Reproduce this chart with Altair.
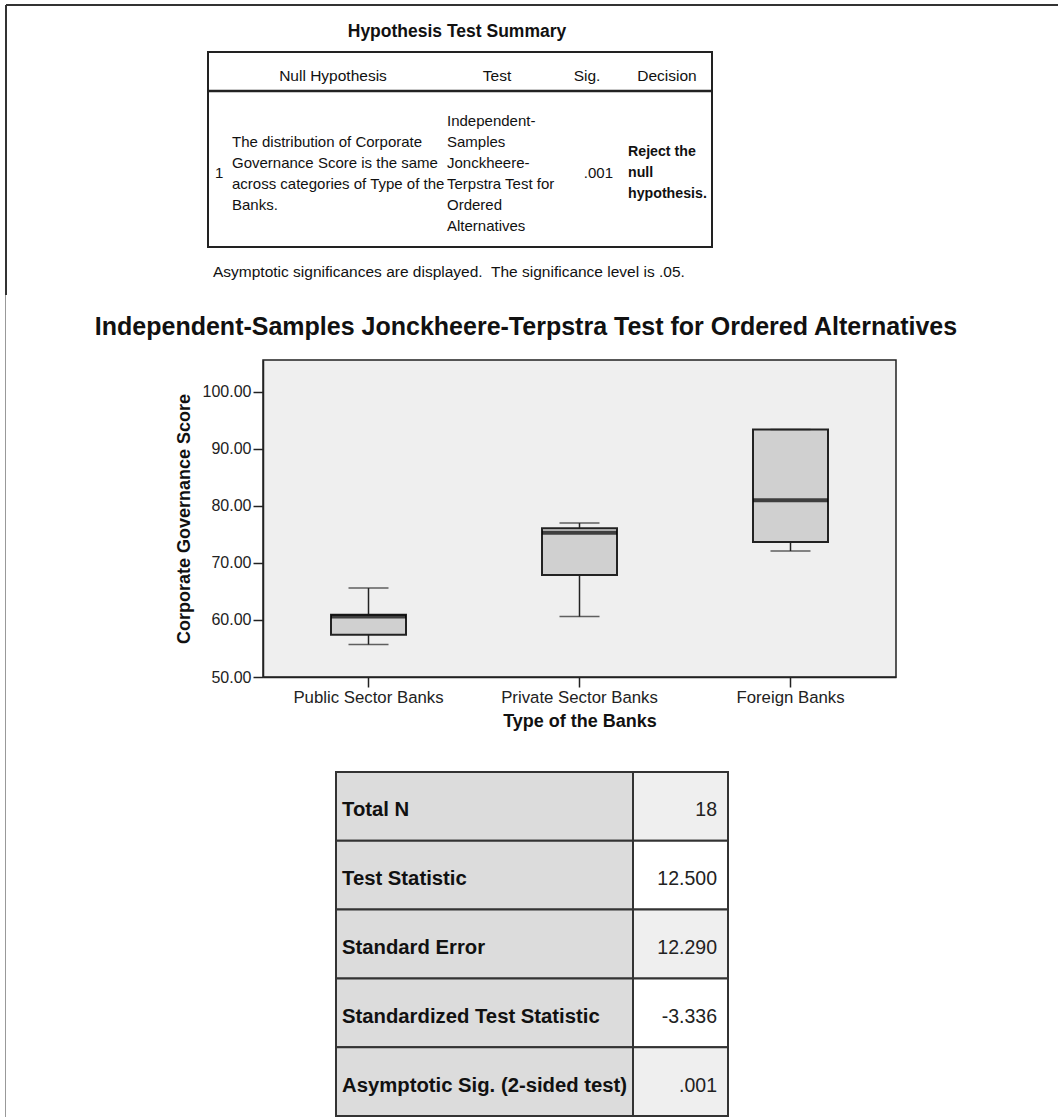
import altair as alt
import pandas as pd

# ---------------- data ----------------
# Box plot summary (Corporate Governance Score by type of bank)
banks = ["Public Sector Banks", "Private Sector Banks", "Foreign Banks"]
whisker_low = [55.7, 60.6, 72.1]
quartile_1 = [57.4, 67.9, 73.7]
medians = [60.6, 75.3, 81.0]
quartile_3 = [60.9, 76.1, 93.4]
whisker_high = [65.6, 77.0, 93.4]
y_ticks = [50, 60, 70, 80, 90, 100]

# Hypothesis test summary table
summary_title = "Hypothesis Test Summary"
summary_headers = ["Null Hypothesis", "Test", "Sig.", "Decision"]
summary_row_id = "1"
summary_cells = [
    "The distribution of Corporate\nGovernance Score is the same\nacross categories of Type of the\nBanks.",
    "Independent-\nSamples\nJonckheere-\nTerpstra Test for\nOrdered\nAlternatives",
    ".001",
    "Reject the\nnull\nhypothesis.",
]
summary_note = "Asymptotic significances are displayed.\u00a0 The significance level is .05."

chart_title = "Independent-Samples Jonckheere-Terpstra Test for Ordered Alternatives"
x_title = "Type of the Banks"
y_title = "Corporate Governance Score"

# Test statistics table
stat_labels = [
    "Total N",
    "Test Statistic",
    "Standard Error",
    "Standardized Test Statistic",
    "Asymptotic Sig. (2-sided test)",
]
stat_values = ["18", "12.500", "12.290", "-3.336", ".001"]

# ---------------- layout ----------------
FONT = "Liberation Sans"
OX, OY = 263, 360          # plot-area origin on the page
W, H = 633, 317            # plot-area size
PAGE_W, PAGE_H = 1058, 1117

one = pd.DataFrame({"k": [0]})


def px(x):
    return x - OX


def py(y):
    return y - OY


def text_layer(txt, x, y, size, weight="normal", align="left", color="#111",
               line_h=21, baseline="middle"):
    return (
        alt.Chart(pd.DataFrame({"label": [txt]}))
        .mark_text(
            align=align, baseline=baseline, fontSize=size, fontWeight=weight,
            color=color, lineBreak="\n", lineHeight=line_h, font=FONT,
        )
        .encode(x=alt.value(px(x)), y=alt.value(py(y)), text="label:N")
    )


def rule_layer(x1, y1, x2, y2, color="#333", width=2.0):
    return (
        alt.Chart(one)
        .mark_rule(color=color, strokeWidth=width)
        .encode(x=alt.value(px(x1)), x2=alt.value(px(x2)),
                y=alt.value(py(y1)), y2=alt.value(py(y2)))
    )


def rect_layer(x1, y1, x2, y2, fill, stroke="#333", width=2.0):
    return (
        alt.Chart(one)
        .mark_rect(fill=fill, stroke=stroke, strokeWidth=width)
        .encode(x=alt.value(px(x1)), x2=alt.value(px(x2)),
                y=alt.value(py(y1)), y2=alt.value(py(y2)))
    )


# ---------------- box plot ----------------
box_df = pd.DataFrame({
    "bank": banks,
    "low": whisker_low,
    "q1": quartile_1,
    "median": medians,
    "q3": quartile_3,
    "high": whisker_high,
})

x_scale = alt.Scale(domain=banks, paddingInner=0, paddingOuter=0)
y_scale = alt.Scale(domain=[50, 105.6], nice=False, zero=False)

x_axis = alt.Axis(
    title=x_title, labelAngle=0, labelFontSize=16.8, labelColor="#222", labelFont=FONT,
    titleFontSize=18, titleFontWeight="bold", titleFont=FONT, titleColor="#111",
    tickSize=10, tickColor="#222", tickWidth=1.5, domainColor="#222", domainWidth=1.5,
    labelPadding=2, titlePadding=7, grid=False,
)
y_axis = alt.Axis(
    title=y_title, values=y_ticks, format=".2f", labelFontSize=16, labelColor="#222",
    labelFont=FONT, titleFontSize=18, titleFontWeight="bold", titleFont=FONT,
    titleColor="#111", tickSize=10, tickColor="#222", tickWidth=1.5,
    domainColor="#222", domainWidth=1.5, labelPadding=2, titlePadding=9, grid=False,
)

base = alt.Chart(box_df)
xb = alt.X("bank:N", sort=banks, scale=x_scale, axis=x_axis)


def yb(field):
    return alt.Y(field, scale=y_scale, axis=y_axis)


boxes = base.mark_bar(size=75, fill="#d0d0d0", stroke="#222", strokeWidth=2).encode(
    x=xb, y=yb("q1:Q"), y2="q3:Q")
whisker_lo = base.mark_rule(color="#222", strokeWidth=1.5).encode(
    x=xb, y=yb("low:Q"), y2="q1:Q")
whisker_hi = base.mark_rule(color="#222", strokeWidth=1.5).encode(
    x=xb, y=yb("q3:Q"), y2="high:Q")
cap_lo = base.mark_tick(size=40, thickness=1.5, color="#222").encode(
    x=xb, y=yb("low:Q"))
cap_hi = base.mark_tick(size=40, thickness=1.5, color="#222").encode(
    x=xb, y=yb("high:Q"))
median_bar = base.mark_tick(size=75, thickness=4, color="black").encode(
    x=xb, y=yb("median:Q"))

box_layers = [boxes, whisker_lo, whisker_hi, cap_lo, cap_hi, median_bar]

# ---------------- test statistics table ----------------
TABLE_L, TABLE_MID, TABLE_R = 336, 633, 728
TABLE_TOP, TABLE_BOTTOM = 772, 1116
row_h = (TABLE_BOTTOM - TABLE_TOP) / len(stat_labels)

stats_layers = []
for i, (label, value) in enumerate(zip(stat_labels, stat_values)):
    top = TABLE_TOP + i * row_h
    bottom = top + row_h
    mid = (top + bottom) / 2 + 4
    value_fill = "#efefef" if i % 2 == 0 else "#ffffff"
    stats_layers += [
        rect_layer(TABLE_L, top, TABLE_MID, bottom, "#dcdcdc"),
        rect_layer(TABLE_MID, top, TABLE_R, bottom, value_fill),
        text_layer(label, 342, mid, 20.3, weight="bold"),
        text_layer(value, 717, mid, 19.5, align="right", color="#222"),
    ]

# ---------------- summary table and page frame ----------------
frame = [
    rule_layer(6, 5, PAGE_W, 5, color="#333", width=2),
    rule_layer(6, 5, 6, 295, color="#333", width=2),
    rule_layer(5.5, 295, 5.5, PAGE_H, color="#999", width=1),
]

summary_box = rect_layer(208, 52, 712, 247, "transparent", stroke="#222", width=2)
header_line = rule_layer(208, 91, 712, 91, color="#222", width=2.5)

header_x = [333, 497, 587, 667]
headers = [text_layer(h, x, 76, 15.5, align="center") for h, x in zip(summary_headers, header_x)]

cells = [
    text_layer(summary_row_id, 215, 173, 15),
    text_layer(summary_cells[0], 232, 142, 15),
    text_layer(summary_cells[1], 447, 121, 15),
    text_layer(summary_cells[2], 613, 173, 15, align="right"),
    text_layer(summary_cells[3], 628, 152, 14.2, weight="bold"),
]

titles = [
    text_layer(summary_title, 457, 32, 17.5, weight="bold", align="center"),
    text_layer(summary_note, 213, 272, 15.5),
    text_layer(chart_title, 526, 327, 25, weight="bold", align="center"),
]

chart = (
    alt.layer(*box_layers, *stats_layers, summary_box, header_line,
              *frame, *headers, *cells, *titles)
    .properties(
        width=W, height=H,
        padding={"left": OX, "top": OY, "right": PAGE_W - OX - W, "bottom": PAGE_H - OY - H},
        autosize=alt.AutoSizeParams(type="none"),
        background="white",
    )
    .configure(font=FONT)
    .configure_view(fill="#efefef", stroke="#222", strokeWidth=1.5)
)

chart.save("out.html", embed_options={"renderer": "svg", "actions": False})
